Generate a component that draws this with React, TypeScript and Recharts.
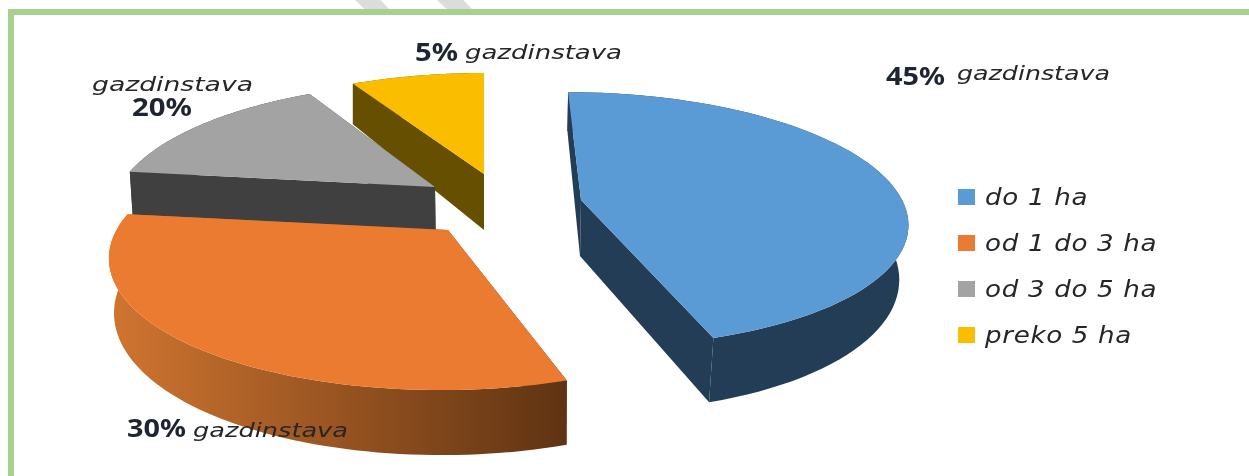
import React from 'react';
import { PieChart, Pie, Legend } from 'recharts';

// wedge sizes as drawn; the printed percentages differ, so they are kept apart
const categories = ['do 1 ha', 'od 1 do 3 ha', 'od 3 do 5 ha', 'preko 5 ha'];
const wedgeValues = [45, 32, 15, 8];
const printedShares = ['45%', '30%', '20%', '5%'];
const unitLabel = 'gazdinstava';

const topColors = ['#5b9bd5', '#ea7b30', '#a3a3a3', '#fbbd00'];
const sideColors = ['#223d55', 'url(#orangeSide)', '#404040', '#665000'];

// explode offset from the pie centre and perspective per slice
const sliceLook = [
  { dx: 101, dy: -15, rx: 0.988, ry: 0.382, p: 0.151, shear: 0.12, shrink: 0.975 },
  { dx: -32, dy: 15, rx: 1.02, ry: 0.397, p: 0.194, shear: -0.045, shrink: 0.988 },
  { dx: -45, dy: -28, rx: 0.972, ry: 0.382, p: 0.194, shear: -0.05, shrink: 0.992 },
  { dx: 4, dy: -41, rx: 0.98, ry: 0.371, p: 0.194, shear: 0, shrink: 1 },
];

const labelSpots = [
  { pctX: 886, pctY: 85, pctW: 59, unitX: 957, unitY: 80, unitW: 153 },
  { pctX: 127, pctY: 437, pctW: 59, unitX: 193, unitY: 437, unitW: 155 },
  { pctX: 132, pctY: 116, pctW: 60, unitX: 92, unitY: 91, unitW: 161 },
  { pctX: 415, pctY: 61, pctW: 43, unitX: 465, unitY: 59, unitW: 157 },
];

// back-to-front drawing order: the Pie walks this list counter-clockwise from 12 o'clock
const slices = categories
  .map((name, i) => ({ name, value: wedgeValues[i], fill: topColors[i], idx: i }))
  .reverse();

const VANISH_X = 540;

function WedgeShape(props: any) {
  const { cx, cy, outerRadius, startAngle, endAngle, payload } = props;
  const i = payload.idx;
  const look = sliceLook[i];
  const ax = cx + look.dx;
  const ay = cy + look.dy;
  const R = outerRadius * look.rx;
  const S = outerRadius * look.ry;

  const bottomOf = (x: number, y: number, depth: number) => [
    VANISH_X + (x - VANISH_X) * look.shrink,
    y + depth,
  ];

  const top: number[][] = [];
  const bottom: number[][] = [];
  const steps = 72;
  for (let k = 0; k <= steps; k++) {
    const deg = 90 - (startAngle + ((endAngle - startAngle) * k) / steps);
    const th = (deg * Math.PI) / 180;
    const u = Math.sin(th);
    const v = -Math.cos(th);
    const w = 1 - look.p * v;
    const y = (S * v) / w;
    const px = ax + (R * u) / w + look.shear * y;
    const py = ay + y;
    top.push([px, py]);
    bottom.push(bottomOf(px, py, 52 + 13 * v));
  }
  const apexBottom = bottomOf(ax, ay, 56);

  const toPath = (pts: number[][]) =>
    'M' + pts.map((p) => `${p[0].toFixed(1)},${p[1].toFixed(1)}`).join('L') + 'Z';

  const first = top[0];
  const last = top[steps];
  const side = sideColors[i];

  return (
    <g>
      <path d={toPath([...top, ...[...bottom].reverse()])} fill={side} />
      <path d={toPath([[ax, ay], first, bottom[0], apexBottom])} fill={side} />
      <path d={toPath([[ax, ay], last, bottom[steps], apexBottom])} fill={side} />
      <path d={toPath([[ax, ay], ...top])} fill={topColors[i]} />
    </g>
  );
}

function SliceLabel(props: any) {
  const i = categories.indexOf(props.name);
  const spot = labelSpots[i];
  return (
    <g>
      <text
        x={spot.pctX}
        y={spot.pctY}
        textLength={spot.pctW}
        lengthAdjust="spacingAndGlyphs"
        fontFamily="'Noto Sans', sans-serif"
        fontWeight={700}
        fontSize={25}
        fill="#1f2530"
      >
        {printedShares[i]}
      </text>
      <text
        x={spot.unitX}
        y={spot.unitY}
        textLength={spot.unitW}
        lengthAdjust="spacingAndGlyphs"
        fontFamily="'DejaVu Sans', sans-serif"
        fontStyle="italic"
        fontSize={20}
        fill="#262626"
      >
        {unitLabel}
      </text>
    </g>
  );
}

function SquareLegend({ payload }: any) {
  const rows = [...(payload || [])].sort(
    (a: any, b: any) => categories.indexOf(a.value) - categories.indexOf(b.value),
  );
  return (
    <div>
      {rows.map((row: any) => (
        <div key={row.value} style={{ display: 'flex', alignItems: 'center', height: 46 }}>
          <span style={{ width: 17, height: 16, background: row.color, marginRight: 10 }} />
          <span
            style={{
              fontFamily: "'DejaVu Sans', sans-serif",
              fontStyle: 'italic',
              fontSize: 23,
              letterSpacing: 0.6,
              color: '#262626',
              whiteSpace: 'nowrap',
              display: 'inline-block',
              transform: 'scaleX(1.135)',
              transformOrigin: 'left center',
            }}
          >
            {row.value}
          </span>
        </div>
      ))}
    </div>
  );
}

export default function App() {
  return (
    <div
      style={{
        position: 'fixed',
        left: 0,
        top: 0,
        width: 1249,
        height: 476,
        overflow: 'hidden',
        background: '#fff',
        filter: 'blur(0.5px)',
      }}
    >
      <div style={{ position: 'absolute', left: 355, top: 0, width: 34, height: 9, background: '#dcdcdc', clipPath: 'polygon(0 0, 75% 0, 100% 100%, 28% 100%)' }} />
      <div style={{ position: 'absolute', left: 437, top: 0, width: 35, height: 9, background: '#dcdcdc', clipPath: 'polygon(0 0, 75% 0, 100% 100%, 28% 100%)' }} />
      <div style={{ position: 'absolute', left: 8, top: 9, right: 0, height: 6, background: '#a9d18e' }} />
      <div style={{ position: 'absolute', left: 8, top: 9, bottom: 0, width: 6, background: '#a9d18e' }} />
      <div style={{ position: 'absolute', left: 0, top: 0 }}>
        <PieChart width={1249} height={476} margin={{ top: 0, right: 0, bottom: 0, left: 0 }}>
          <defs>
            <linearGradient id="orangeSide" gradientUnits="userSpaceOnUse" x1="115" y1="0" x2="567" y2="0">
              <stop offset="0%" stopColor="#cf7430" />
              <stop offset="100%" stopColor="#5f3312" />
            </linearGradient>
          </defs>
          <Pie
            data={slices}
            dataKey="value"
            nameKey="name"
            cx={480}
            cy={215}
            outerRadius={325}
            startAngle={90}
            endAngle={450}
            stroke="none"
            shape={WedgeShape}
            label={SliceLabel}
            labelLine={false}
            isAnimationActive={false}
          />
          <Legend
            content={SquareLegend}
            layout="vertical"
            wrapperStyle={{ position: 'absolute', left: 958, top: 174, width: 280 }}
          />
        </PieChart>
      </div>
    </div>
  );
}
